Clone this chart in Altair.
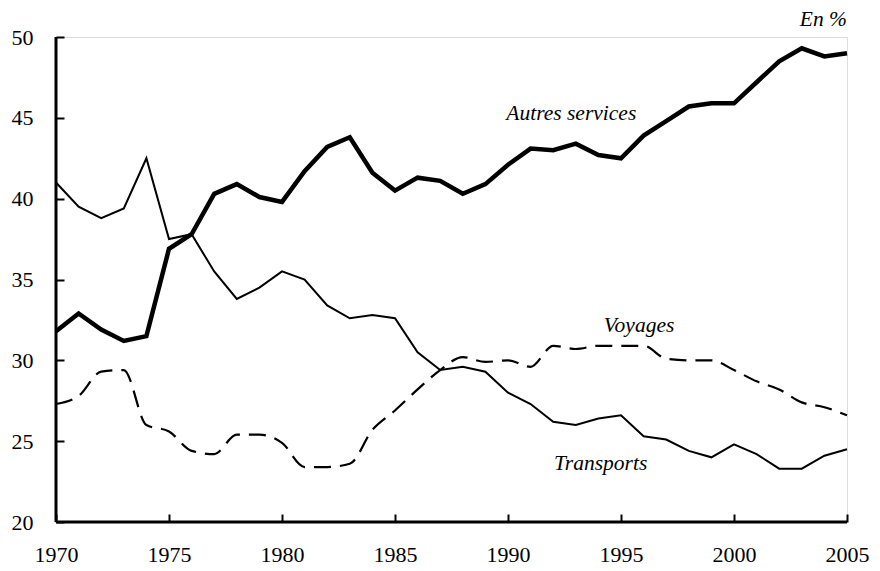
import altair as alt
import pandas as pd

years = list(range(1970, 2006))

autres_services = [31.8, 32.9, 31.9, 31.2, 31.5, 36.9, 37.8, 40.3, 40.9, 40.1,
                   39.8, 41.7, 43.2, 43.8, 41.6, 40.5, 41.3, 41.1, 40.3, 40.9,
                   42.1, 43.1, 43.0, 43.4, 42.7, 42.5, 43.9, 44.8, 45.7, 45.9,
                   45.9, 47.2, 48.5, 49.3, 48.8, 49.0]

transports = [41.0, 39.5, 38.8, 39.4, 42.5, 37.5, 37.8, 35.5, 33.8, 34.5,
              35.5, 35.0, 33.4, 32.6, 32.8, 32.6, 30.5, 29.4, 29.6, 29.3,
              28.0, 27.3, 26.2, 26.0, 26.4, 26.6, 25.3, 25.1, 24.4, 24.0,
              24.8, 24.2, 23.3, 23.3, 24.1, 24.5]

voyages = [27.3, 27.8, 29.3, 29.4, 26.0, 25.6, 24.4, 24.2, 25.4, 25.4,
           24.9, 23.4, 23.4, 23.6, 25.7, 26.9, 28.2, 29.4, 30.2, 29.9,
           30.0, 29.6, 30.9, 30.7, 30.9, 30.9, 30.9, 30.1, 30.0, 30.0,
           29.4, 28.7, 28.2, 27.4, 27.1, 26.6]

label_names = ["Autres services", "Voyages", "Transports"]
label_x = [1992.8, 1995.8, 1994.1]
label_y = [44.85, 31.75, 23.2]

unit_label = "En %"

x_ticks = list(range(1970, 2006, 5))
y_ticks = list(range(20, 51, 5))

FONT = "Liberation Serif"

rows = []
for name, vals in [("Autres services", autres_services), ("Transports", transports), ("Voyages", voyages)]:
    for yr, v in zip(years, vals):
        rows.append({"year": yr, "value": v, "series": name})
df = pd.DataFrame(rows)

labels_df = pd.DataFrame({"name": label_names, "x": label_x, "y": label_y})

xscale = alt.Scale(domain=[1970, 2005], nice=False, zero=False)
yscale = alt.Scale(domain=[20, 50], nice=False, zero=False)

xaxis = alt.Axis(values=x_ticks, format="d", domain=False, grid=False, offset=-8,
                 tickSize=8, tickWidth=2, tickColor="black", labelFont=FONT,
                 labelFontSize=22, labelColor="black", labelPadding=22, title=None,
                 labelFlush=False, labelOverlap=False, labelBound=False)
yaxis = alt.Axis(values=y_ticks, domain=False, grid=False, offset=-8,
                 tickSize=8, tickWidth=2, tickColor="black", labelFont=FONT,
                 labelFontSize=22, labelColor="black", labelPadding=23, title=None,
                 labelFlush=False, labelOverlap=False, labelBound=False)

base = alt.Chart(df)

def line(series, width, dash=None, interp="linear"):
    kw = dict(color="black", strokeWidth=width, interpolate=interp)
    if dash:
        kw["strokeDash"] = dash
    return base.transform_filter(alt.datum.series == series).mark_line(**kw).encode(
        x=alt.X("year:Q", scale=xscale, axis=xaxis),
        y=alt.Y("value:Q", scale=yscale, axis=yaxis),
    )

l_trans = line("Transports", 2)
l_voy = line("Voyages", 2.2, dash=[17, 9], interp="monotone")
l_autres = line("Autres services", 4.5)

left_rule = alt.Chart(pd.DataFrame({"x": [1970]})).mark_rule(color="black", strokeWidth=3).encode(
    x=alt.X("x:Q", scale=xscale), y=alt.datum(20), y2=alt.datum(50)
)
bottom_rule = alt.Chart(pd.DataFrame({"y": [20]})).mark_rule(color="black", strokeWidth=3).encode(
    y=alt.Y("y:Q", scale=yscale), x=alt.datum(1970), x2=alt.datum(2005)
)

texts = alt.Chart(labels_df).mark_text(font=FONT, fontSize=21.5, fontStyle="italic",
                                        align="center", baseline="alphabetic", color="black").encode(
    x=alt.X("x:Q", scale=xscale), y=alt.Y("y:Q", scale=yscale), text="name:N"
)

unit = alt.Chart(pd.DataFrame({"t": [unit_label]})).mark_text(
    font=FONT, fontSize=21.5, fontStyle="italic", align="right", baseline="alphabetic",
    color="black", dy=-11
).encode(x=alt.datum(2005), y=alt.datum(50), text="t:N")

chart = alt.layer(l_trans, l_voy, l_autres, left_rule, bottom_rule, texts, unit).properties(
    width=791, height=485,
    autosize=alt.AutoSizeParams(type="none"),
    padding={"left": 48, "top": 29, "right": 25, "bottom": 49},
).configure_view(stroke="black", strokeWidth=2).configure(background="white", font=FONT)

chart.save("out.html", embed_options={"renderer": "svg", "actions": False})
